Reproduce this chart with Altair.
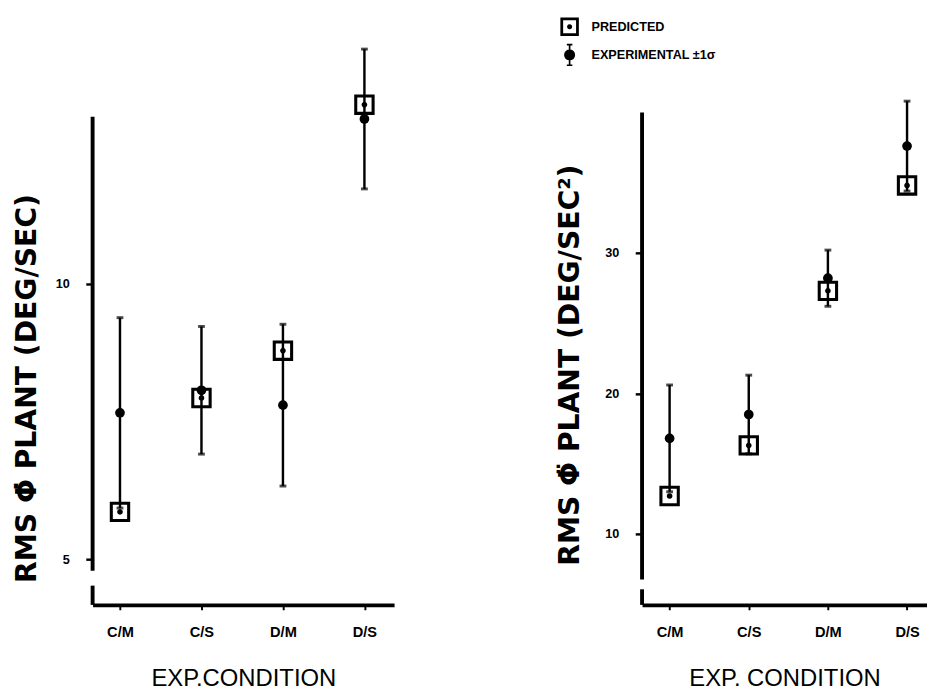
import math
import altair as alt
import pandas as pd

conditions = ["C/M", "C/S", "D/M", "D/S"]

# Left panel: RMS phi-dot plant (deg/sec)
left_pred = [5.86, 7.93, 8.79, 13.26]
left_exp = [7.66, 8.07, 7.80, 13.00]
left_sd = [1.73, 1.16, 1.47, 1.27]

# Right panel: RMS phi-double-dot plant (deg/sec^2)
right_pred = [12.7, 16.3, 27.3, 34.8]
right_exp = [16.8, 18.5, 28.2, 37.6]
right_sd = [3.8, 2.8, 2.0, 3.2]

left_ticks = [5, 10]
right_ticks = [10, 20, 30]

series_labels = ["PREDICTED", "EXPERIMENTAL \u00b11\u03c3"]

FONT = "Liberation Sans"
TFONT = "DejaVu Sans"


def poly(cx, cy, r, n=16):
    pts = []
    for i in range(n):
        a = 2 * math.pi * i / n
        pts.append(f"{cx + r * math.cos(a):.3f},{cy + r * math.sin(a):.3f}")
    return "M" + "L".join(pts) + "Z"


def rect(x0, y0, x1, y1):
    return f"M{x0},{y0}L{x1},{y0}L{x1},{y1}L{x0},{y1}Z"


# square outline with dot inside (outer clockwise, inner counter-clockwise)
PRED_PATH = (
    "M-1,-1L1,-1L1,1L-1,1Z"
    "M-0.7,-0.7L-0.7,0.7L0.7,0.7L0.7,-0.7Z"
    + poly(0, 0, 0.28, 12)
)
# error bar with filled dot
EXP_PATH = (
    rect(-0.09, -1.15, 0.09, 1.15)
    + rect(-0.3, -1.2, 0.3, -1.02)
    + rect(-0.3, 1.02, 0.3, 1.2)
    + poly(0, 0, 0.6, 16)
)


def make_df(pred, exp, sd):
    return pd.DataFrame({
        "cond": conditions,
        "pred": pred,
        "exp": exp,
        "lo": [e - s for e, s in zip(exp, sd)],
        "hi": [e + s for e, s in zip(exp, sd)],
        "series": [series_labels[0]] * len(conditions),
    })


def panel(df, ydomain, yticks, ytitle, xtitle, axis_parts, width, pad, align,
          title_x, title_y, legend):
    x = alt.X(
        "cond:N",
        sort=conditions,
        scale=alt.Scale(type="point", padding=pad, align=align),
        axis=alt.Axis(
            title=xtitle,
            labelAngle=0,
            labelFont=FONT,
            labelFontSize=15,
            labelFontWeight="bold",
            labelColor="black",
            labelPadding=15,
            domain=True,
            domainColor="black",
            domainWidth=4,
            ticks=True,
            tickSize=5,
            tickWidth=2,
            tickColor="black",
            titleFont=FONT,
            titleFontSize=24.5,
            titleFontWeight="normal",
            titleColor="black",
            titlePadding=29,
            grid=False,
        ),
    )
    yscale = alt.Scale(domain=ydomain, nice=False, zero=False)
    yaxis = alt.Axis(
        title=ytitle,
        values=yticks,
        format="d",
        domain=False,
        grid=False,
        ticks=True,
        tickSize=7,
        tickWidth=2.5,
        tickColor="black",
        labelFont=FONT,
        labelFontSize=13,
        labelFontWeight="bold",
        labelColor="black",
        labelPadding=17,
        titleFont=TFONT,
        titleFontSize=29,
        titleFontWeight="bold",
        titleColor="black",
        titleX=title_x,
        titleY=title_y,
        titleAngle=270,
        titleBaseline="middle",
        titleAlign="center",
    )

    def Y(field):
        return alt.Y(field, type="quantitative", scale=yscale, axis=yaxis)

    base = alt.Chart(df)
    axis_df = pd.DataFrame({"a": [axis_parts[0], axis_parts[2]],
                            "b": [axis_parts[1], axis_parts[3]]})
    yline = alt.Chart(axis_df).mark_rule(color="black", strokeWidth=4).encode(
        x=alt.value(0), y=Y("a"), y2="b"
    )
    bars = base.mark_rule(color="black", strokeWidth=2.5).encode(
        x=x, y=Y("lo"), y2="hi"
    )
    cap_hi = base.mark_tick(color="black", size=7, thickness=3,
                            orient="horizontal").encode(x=x, y=Y("hi"))
    cap_lo = base.mark_tick(color="black", size=7, thickness=3,
                            orient="horizontal").encode(x=x, y=Y("lo"))
    exp_pts = base.mark_point(filled=True, color="black", size=100,
                              opacity=1, strokeWidth=0).encode(
        x=x, y=Y("exp"), shape=alt.value("circle")
    )
    if legend:
        shape = alt.Shape(
            "series:N",
            scale=alt.Scale(domain=series_labels, range=[PRED_PATH, EXP_PATH]),
            legend=alt.Legend(
                title=None,
                orient="none",
                legendX=481,
                legendY=-24,
                padding=0,
                symbolSize=361,
                symbolFillColor="black",
                symbolStrokeColor="black",
                symbolStrokeWidth=0,
                symbolOpacity=1,
                labelFont=FONT,
                labelFontSize=13,
                labelFontWeight="bold",
                labelColor="black",
                labelOffset=13,
                rowPadding=8,
            ),
        )
    else:
        shape = alt.value(PRED_PATH)
    pred_pts = base.mark_point(filled=True, color="black", size=441,
                               opacity=1, strokeWidth=0).encode(
        x=x, y=Y("pred"), shape=shape
    )
    return alt.layer(yline, bars, cap_hi, cap_lo, exp_pts, pred_pts).properties(
        width=width, height=580,
        view=alt.ViewBackground(stroke="transparent", strokeWidth=0),
    )


left = panel(
    make_df(left_pred, left_exp, left_sd),
    [4.17, 14.42], left_ticks,
    "RMS \u03a6\u0307 PLANT (DEG/SEC)", "EXP.CONDITION",
    [4.17, 4.52, 4.79, 13.04],
    310, 0.35, 0.48, -68, 357, False,
)
right = panel(
    make_df(right_pred, right_exp, right_sd),
    [4.95, 45.09], right_ticks,
    "RMS \u03a6\u0308 PLANT (DEG/SEC\u00b2)", "EXP. CONDITION",
    [4.95, 6.06, 6.75, 40.0],
    293, 0.30, 0.58, -74, 333, True,
)

chart = alt.hconcat(left, right, spacing=167).properties(
    padding={"left": 5, "top": 0, "right": 0, "bottom": 0}
).configure_view(stroke="transparent", strokeWidth=0).configure(background="white")

chart.save("out.html", embed_options={"renderer": "svg", "actions": False})
